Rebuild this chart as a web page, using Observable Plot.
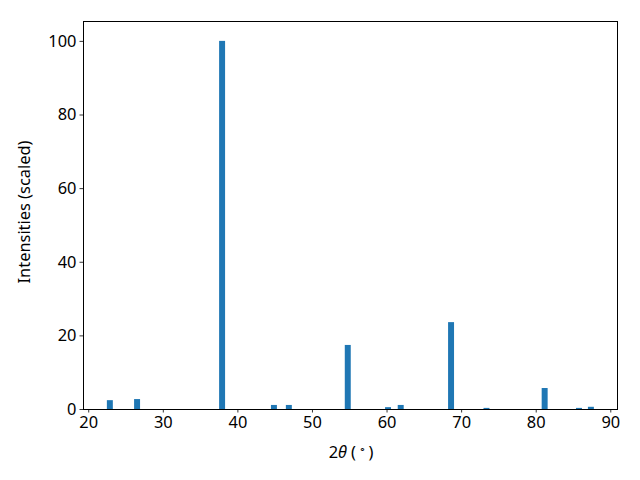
<!DOCTYPE html>
<html>
<head>
<meta charset="utf-8">
<script src="https://cdn.jsdelivr.net/npm/d3@7"></script>
<script src="https://cdn.jsdelivr.net/npm/@observablehq/plot@0.6"></script>
<style>
  html, body { margin: 0; padding: 0; background: #fff; }
  #chart svg { display: block; }
</style>
</head>
<body>
<div id="chart"></div>
<script>
const twoTheta = [22.9, 26.55, 37.95, 44.9, 46.9, 54.8, 60.2, 61.9, 68.65, 73.4, 81.2, 85.8, 87.4];
const intensity = [2.4, 2.7, 100, 1.1, 1.1, 17.4, 0.5, 1.1, 23.6, 0.3, 5.7, 0.3, 0.6];
const xTicks = [20, 30, 40, 50, 60, 70, 80, 90];
const yTicks = [0, 20, 40, 60, 80, 100];
const barWidth = 0.8;
const FONT = "Noto Sans";
const FS = 16.4;

const data = twoTheta.map((x, i) => ({x, y: intensity[i]}));

const plot = Plot.plot({
  width: 640,
  height: 480,
  marginLeft: 83,
  marginRight: 23,
  marginTop: 21,
  marginBottom: 71,
  style: {fontFamily: FONT, fontSize: FS + "px", color: "black", background: "white"},
  x: {domain: [19.3, 90.9], label: null},
  y: {domain: [0, 105.4], label: null},
  marks: [
    Plot.rectY(data, {x1: d => d.x - barWidth / 2, x2: d => d.x + barWidth / 2, y: "y", fill: "#1f77b4"}),
    Plot.frame({stroke: "black", strokeWidth: 1}),
    Plot.axisX({ticks: xTicks, tickSize: 3.5, tickPadding: 3.5, tickFormat: d => String(d), fontSize: FS, stroke: "black", strokeWidth: 0.8}),
    Plot.axisY({ticks: yTicks, tickSize: 3.5, tickPadding: 3.5, tickFormat: d => String(d), fontSize: FS, stroke: "black", strokeWidth: 0.8})
  ]
});

const svg = d3.select(plot);
svg.selectAll("text").attr("font-size", FS).attr("font-family", FONT).attr("fill", "black");

const xl = svg.append("text")
  .attr("x", 351).attr("y", 458)
  .attr("text-anchor", "middle")
  .attr("font-family", FONT).attr("font-size", FS).attr("fill", "black");
xl.append("tspan").text("2");
xl.append("tspan").attr("font-style", "italic").text("θ");
xl.append("tspan").text(" (\u2009");
xl.append("tspan").attr("font-size", 11).attr("dy", -5).text("∘");
xl.append("tspan").attr("dy", 5).text("\u2009)");

svg.append("text")
  .attr("transform", "translate(30,212) rotate(-90)")
  .attr("text-anchor", "middle")
  .attr("font-family", FONT).attr("font-size", FS).attr("fill", "black")
  .text("Intensities (scaled)");

document.getElementById("chart").appendChild(plot);
</script>
</body>
</html>
